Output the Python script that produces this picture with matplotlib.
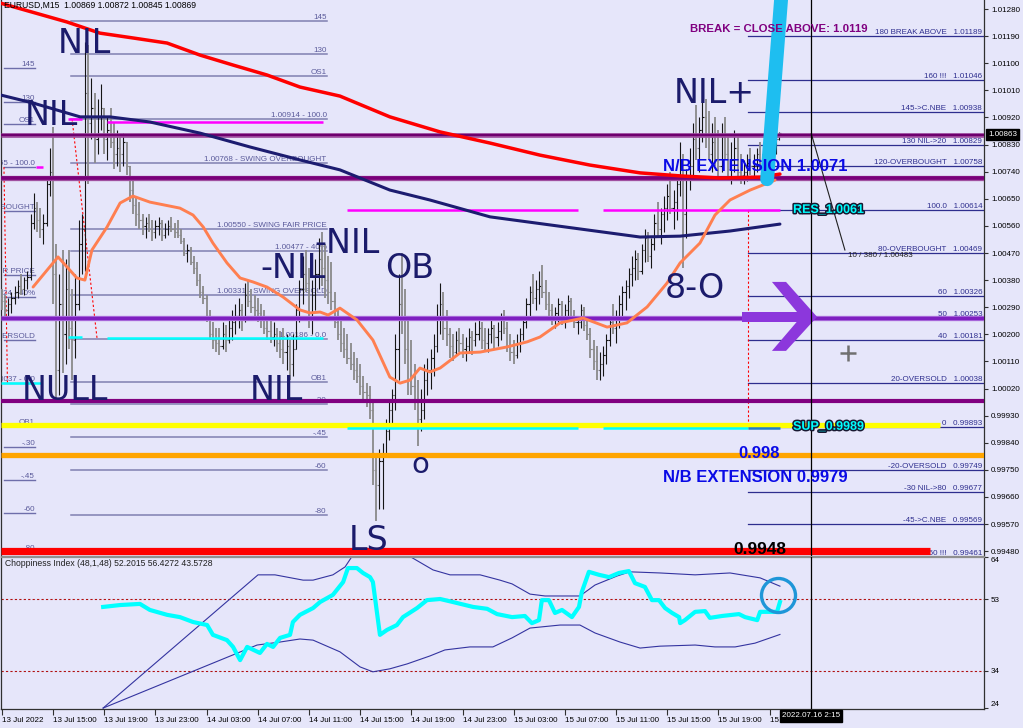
import numpy as np
import matplotlib
matplotlib.use("Agg")
import matplotlib.pyplot as plt
from matplotlib.collections import LineCollection
from matplotlib.patches import Polygon
from matplotlib.transforms import blended_transform_factory
import matplotlib.patheffects as pe

plt.rcParams['font.family'] = ['Liberation Sans', 'DejaVu Sans']

BG = '#E6E6FA'

# ---------------- data (prices in pips above parity, EURUSD M15) ----------------
first_open = 32
bar_high = [
    35, 33, 32, 34, 36, 38, 40, 39, 41, 60, 67, 64, 62, 60, 72, 82,
    89, 50, 40, 48, 45, 48, 35, 40, 58, 60, 117, 116, 105, 100, 98, 103,
    95, 92, 95, 90, 88, 86, 87, 84, 76, 72, 66, 64, 60, 59, 60, 58,
    58, 59, 58, 57, 58, 59, 57, 58, 55, 52, 50, 49, 46, 44, 40, 36,
    33, 28, 24, 22, 22, 24, 23, 25, 28, 30, 32, 30, 37, 38, 35, 33,
    32, 30, 28, 26, 25, 24, 22, 21, 22, 20, 18, 20, 30, 38, 46, 48,
    42, 38, 45, 52, 54, 50, 46, 44, 34, 28, 26, 22, 20, 17, 14, 12,
    10, 6, 4, 3, -2, -20, -18, -16, -8, -2, 2, 20, 40, 47, 35, 25,
    18, 10, 5, 2, 10, 12, 15, 20, 30, 37, 34, 28, 22, 20, 21, 22,
    20, 19, 22, 21, 24, 26, 24, 22, 22, 25, 23, 24, 27, 28, 24, 20,
    18, 20, 22, 26, 32, 36, 40, 38, 41, 43, 38, 34, 30, 29, 32, 31,
    30, 33, 32, 28, 26, 30, 29, 26, 22, 18, 16, 14, 16, 20, 26, 30,
    28, 33, 36, 38, 42, 46, 48, 47, 50, 55, 54, 52, 60, 64, 62, 66,
    70, 74, 68, 72, 84, 80, 75, 82, 90, 96, 92, 98, 98, 94, 90, 92,
    88, 90, 92, 86, 84, 88, 86, 80, 78, 80, 82, 80, 82, 84, 80, 82,
    85, 86, 88, 87.2]
bar_low = [
    28, 26, 25, 27, 30, 32, 33, 33, 35, 38, 55, 54, 52, 50, 56, 66,
    30, -2, 0, 7, 10, 15, 5, 12, 28, 40, 41, 70, 85, 77, 80, 88,
    80, 78, 82, 75, 76, 74, 76, 73, 64, 60, 56, 55, 53, 52, 54, 51,
    52, 53, 51, 52, 53, 54, 52, 52, 50, 46, 44, 43, 40, 36, 32, 30,
    24, 18, 15, 14, 13, 15, 14, 17, 18, 20, 22, 21, 24, 29, 27, 26,
    24, 22, 20, 18, 17, 16, 14, 12, 10, 8, 5, 6, 15, 24, 30, 34,
    22, 20, 28, 35, 36, 32, 30, 28, 22, 18, 14, 12, 10, 8, 5, 4,
    0, -2, -4, -8, -30, -42, -38, -38, -20, -15, -10, -5, 5, 20, 10, 0,
    0, -5, -17, -12, -8, 0, 2, 6, 14, 20, 18, 16, 12, 11, 13, 14,
    12, 11, 14, 13, 16, 18, 15, 14, 14, 17, 15, 16, 18, 20, 14, 11,
    10, 12, 14, 18, 22, 26, 30, 28, 30, 32, 28, 26, 23, 22, 24, 23,
    22, 25, 24, 22, 20, 22, 21, 18, 12, 8, 5, 5, 6, 10, 16, 20,
    17, 22, 26, 28, 32, 36, 38, 38, 40, 44, 44, 42, 48, 52, 50, 54,
    58, 60, 55, 58, 66, 42, 52, 68, 72, 78, 74, 84, 82, 78, 74, 76,
    72, 74, 78, 72, 70, 74, 72, 70, 70, 71, 73, 72, 74, 75, 71, 73,
    76, 78, 80, 84.5]
bar_close = [
    31, 28, 30, 32, 34, 36, 35, 38, 39, 57, 62, 58, 55, 57, 70, 74,
    40, 8, 30, 20, 35, 22, 18, 30, 50, 55, 100, 90, 95, 85, 92, 95,
    85, 88, 84, 80, 82, 80, 84, 76, 68, 63, 60, 58, 56, 57, 55, 54,
    56, 57, 53, 55, 56, 55, 54, 53, 51, 47, 48, 44, 42, 38, 34, 32,
    26, 20, 18, 17, 16, 20, 18, 22, 24, 26, 28, 25, 33, 31, 29, 28,
    27, 25, 22, 21, 19, 20, 17, 15, 14, 16, 10, 15, 28, 35, 40, 37,
    26, 33, 40, 45, 42, 38, 34, 31, 24, 20, 17, 15, 12, 10, 8, 6,
    3, 1, 0, -5, -25, -30, -22, -20, -12, -5, 0, 15, 30, 25, 15, 5,
    3, -2, -8, -5, 5, 8, 12, 16, 26, 30, 22, 20, 16, 14, 18, 17,
    15, 16, 19, 18, 20, 22, 18, 17, 20, 22, 19, 21, 25, 22, 16, 14,
    13, 17, 20, 24, 30, 34, 32, 35, 36, 34, 30, 28, 26, 27, 30, 25,
    28, 31, 26, 24, 24, 28, 23, 20, 15, 11, 8, 10, 13, 18, 24, 22,
    26, 30, 34, 36, 40, 42, 45, 41, 48, 52, 46, 50, 57, 55, 60, 62,
    66, 62, 64, 70, 78, 60, 72, 76, 85, 82, 88, 92, 86, 80, 84, 78,
    76, 86, 80, 75, 78, 82, 74, 73, 74, 77, 76, 78, 80, 78, 75, 80,
    82, 84, 85, 86.9]

# moving averages: (bar index, pips)
red_ma_bar = [-0.5, 20.4, 30.7, 41.0, 51.7, 62.0, 72.3, 82.9, 93.2, 105.7, 121.3, 137.0,
              152.6, 168.2, 183.8, 199.5, 212.0, 224.5, 237.0, 243.2]
red_ma_pips = [130.0, 123.7, 120.0, 118.4, 116.7, 112.7, 109.4, 106.1, 102.1, 99.1, 92.2, 87.2,
               83.5, 79.5, 76.2, 73.6, 72.6, 71.9, 72.2, 73.2]
navy_ma_bar = [-0.5, 9.8, 24.5, 33.8, 46.3, 62.0, 77.6, 93.2, 105.7, 121.3, 133.8, 152.6,
               178.5, 199.5, 212.0, 227.6, 243.2]
navy_ma_pips = [99.5, 96.8, 92.2, 92.2, 90.5, 86.8, 82.2, 77.9, 74.6, 67.9, 64.6, 59.0,
                55.3, 52.3, 52.6, 54.3, 56.6]
orange_ma_bar = [9.8, 17.6, 23.5, 26.0, 28.2, 32.9, 37.0, 41.0, 46.3, 55.7, 59.8, 63.0, 66.0,
                 70.4, 74.5, 78.5, 82.9, 87.9, 93.2, 96.3, 99.5, 102.0, 105.7, 111.0, 116.0,
                 121.3, 124.5, 127.6, 130.7, 133.8, 137.0, 143.2, 149.5, 157.9, 164.2, 168.2,
                 174.5, 181.7, 189.2, 195.4, 201.7, 207.9, 212.0, 218.2, 222.9, 227.6, 233.9, 241.7]
orange_ma_pips = [35.7, 45.7, 38.7, 38.0, 48.0, 55.6, 63.6, 65.9, 63.9, 61.9, 59.6, 55.6, 50.3,
                  43.7, 38.7, 37.4, 35.7, 32.4, 28.1, 27.1, 27.4, 26.4, 28.7, 24.8, 18.1,
                  5.8, 3.8, 4.8, 8.8, 7.5, 8.8, 13.8, 14.1, 15.8, 17.5, 19.1,
                  23.8, 25.4, 22.4, 23.8, 29.1, 37.0, 43.7, 50.3, 59.6, 64.6, 67.9, 71.2]

# Choppiness Index (48,1,48) and its bands
chop_bar = [31.7, 37.0, 43.2, 46.3, 51.7, 55.7, 59.8, 64.2, 66.0, 70.4, 72.3, 74.5, 76.7, 80.7,
            82.9, 84.8, 87.0, 90.1, 91.0, 93.2, 97.3, 99.5, 103.5, 106.7, 108.2, 111.0, 112.9,
            115.1, 116.0, 118.2, 120.4, 123.5, 125.4, 129.8, 132.9, 137.0, 141.0, 147.3, 151.7,
            154.8, 159.5, 163.5, 165.7, 167.9, 168.8, 171.0, 172.9, 175.1, 178.2, 180.4, 181.3,
            183.5, 186.7, 189.8, 192.9, 196.0, 197.9, 201.0, 203.2, 205.4, 207.3, 209.5, 211.7,
            212.0, 213.5, 216.7, 219.8, 221.3, 225.1, 230.4, 232.3, 236.1, 237.0, 240.7, 242.3, 243.2]
chop_val = [50.9, 51.4, 51.7, 50.1, 48.8, 48.2, 46.9, 46.1, 43.5, 42.1, 40.3, 36.8, 40.3, 38.7,
            41.1, 40.3, 42.7, 43.5, 46.9, 48.8, 50.6, 52.2, 54.1, 57.5, 61.2, 61.2, 59.9,
            58.8, 57.5, 43.5, 44.8, 46.1, 48.2, 50.6, 52.7, 53.0, 52.2, 50.9, 50.4,
            49.0, 48.2, 48.5, 46.6, 47.4, 52.7, 52.7, 49.3, 50.1, 48.2, 50.9, 54.9,
            60.2, 59.4, 58.8, 59.9, 60.4, 57.2, 56.2, 52.7, 52.7, 50.6, 49.3, 48.2,
            46.6, 47.4, 49.6, 49.8, 48.0, 48.5, 49.0, 48.2, 47.4, 49.6, 49.6, 49.6, 52.2]
upper_bar = [31.7, 80.1, 85.4, 94.2, 97.3, 103.5, 107.3, 109.8, 118.2, 126.7, 134.8, 140.1, 149.5,
             155.7, 159.5, 165.1, 169.8, 180.7, 185.4, 192.3, 196.3, 205.7, 216.7, 227.6, 237.0, 243.2]
upper_val = [24.1, 59.4, 59.4, 58.0, 58.0, 59.4, 61.5, 64.7, 68.6, 64.7, 60.7, 59.4, 59.4,
             58.0, 57.0, 54.3, 53.8, 53.8, 56.7, 59.1, 60.2, 59.9, 59.4, 59.9, 58.6, 56.4]
lower_bar = [31.7, 79.8, 87.0, 93.2, 97.3, 105.7, 112.0, 116.0, 121.3, 126.7, 133.8, 138.5, 146.3,
             153.5, 159.5, 165.1, 174.5, 180.7, 185.4, 193.2, 199.5, 205.7, 216.7, 222.9, 229.2,
             235.4, 243.2]
lower_val = [24.1, 40.8, 41.6, 42.4, 42.1, 39.0, 35.0, 33.7, 34.5, 35.8, 37.9, 39.5, 40.3,
             40.3, 42.7, 45.3, 46.1, 46.1, 44.0, 41.6, 40.0, 40.5, 40.8, 40.3, 40.3,
             41.3, 43.6]

# Fibonacci level sets
right_levels = [1.01189, 1.01046, 1.00938, 1.00829, 1.00758, 1.00614, 1.00469, 1.00326,
                1.00253, 1.00181, 1.00038, 0.99893, 0.99749, 0.99677, 0.99569, 0.99461]
right_names = ["180 BREAK ABOVE", "160 !!!", "145->C.NBE", "130 NIL->20", "120-OVERBOUGHT",
               "100.0", "80-OVERBOUGHT", "60", "50", "40", "20-OVERSOLD", "0",
               "-20-OVERSOLD", "-30 NIL->80", "-45->C.NBE", "-60 !!!"]
mid_levels = [1.01240, 1.01131, 1.01058, 1.00914, 1.00768, 1.00550, 1.00477, 1.00331,
              1.00186, 1.00042, 0.99969, 0.99859, 0.99750, 0.99600]
mid_names = ["145", "130", "OS1", "1.00914 - 100.0", "1.00768 - SWING OVERBOUGHT",
             "1.00550 - SWING FAIR PRICE", "1.00477 - 40%", "1.00331 - SWING OVERSOLD",
             "1.00186 - 0.0", "OB1", "-.30", "-.45", "-60", "-80"]
left_levels = [1.01084, 1.00971, 1.00898, 1.00755, 1.00611, 1.00396, 1.00324, 1.00181,
               1.00037, 0.99896, 0.99826, 0.99716, 0.99607, 0.99477]
left_names = ["145", "130", "OS1", "1.00755 - 100.0", "1.00611 - SWING OVERBOUGHT",
              "1.00396 - SWING FAIR PRICE", "1.00324 - 40%", "1.00181 - SWING OVERSOLD",
              "1.00037 - 0.0", "OB1", "-.30", "-.45", "-60", "-80"]

price_ticks = [0.99480 + 0.0009 * k for k in range(21)]
chop_ticks = [24, 34, 53, 64]
chop_levels = [53, 34]
time_tick_bars = list(range(0, 241, 16))
time_labels = ["13 Jul 2022", "13 Jul 15:00", "13 Jul 19:00", "13 Jul 23:00", "14 Jul 03:00",
               "14 Jul 07:00", "14 Jul 11:00", "14 Jul 15:00", "14 Jul 19:00", "14 Jul 23:00",
               "15 Jul 03:00", "15 Jul 07:00", "15 Jul 11:00", "15 Jul 15:00", "15 Jul 19:00",
               "15 Jul 23:00"]
cursor_bar = 253
last_price = 1.00863


def P(p):
    return 1.0 + np.asarray(p, dtype=float) / 1e4


# ---------------- figure layout ----------------
W, H = 1023, 728
fig = plt.figure(figsize=(W / 100, H / 100), dpi=100, facecolor=BG)


def rect(x0, y0, x1, y1):
    return [x0 / W, 1 - y1 / H, (x1 - x0) / W, (y1 - y0) / H]


ax = fig.add_axes(rect(1, 0, 984, 556))
ax2 = fig.add_axes(rect(1, 557, 984, 709), sharex=ax)
for a in (ax, ax2):
    a.set_facecolor(BG)
    for s in a.spines.values():
        s.set_color('#303030')
        s.set_linewidth(0.9)
ax.spines['top'].set_visible(False)
ax.spines['bottom'].set_color('#909090')
ax2.spines['top'].set_color('#909090')

XL = (-0.22, 306.97)
ax.set_xlim(*XL)
ax.set_ylim(0.99464, 1.01310)
ax2.set_ylim(23.85, 64.13)

# ---------------- fibonacci levels ----------------
FS = 5.8
for lv, nm in zip(right_levels, right_names):
    ax.plot([233.2, 306.7], [lv, lv], color='#2E2E8E', lw=0.9, zorder=1)
    ax.text(306.4, lv, f"{nm}   {lv:.5f}", ha='right', va='bottom', fontsize=FS,
            color='#2E2E8E', zorder=1.5, clip_on=True)
for lv, nm in zip(mid_levels, mid_names):
    ax.plot([21.7, 101.7], [lv, lv], color='#8080B0', lw=1.1, zorder=1)
    ax.text(101.5, lv, nm, ha='right', va='bottom', fontsize=FS, color='#5A5A9A',
            zorder=1.5, clip_on=True)
for lv, nm in zip(left_levels, left_names):
    ax.plot([0.7, 10.4], [lv, lv], color='#6E6EAA', lw=1.0, zorder=1)
    ax.text(10.4, lv, nm, ha='right', va='bottom', fontsize=FS, color='#5A5A9A',
            zorder=1.5, clip_on=True)

# fib anchor connectors
dot = dict(color='#FF0000', lw=0.8, ls=(0, (2, 2)), zorder=1.6)
ax.plot([0.7, 1.8], [1.00755, 1.00037], **dot)
ax.plot([22.0, 29.8], [1.00914, 1.00186], **dot)
ax.plot([233.2, 233.2], [1.00614, 0.99893], **dot)

# ---------------- price bars ----------------
hi, lo, cl = P(bar_high), P(bar_low), P(bar_close)
op = np.concatenate([[P(first_open)], cl[:-1]])
xb = np.arange(len(cl))
segs, cols, lws = [], [], []
for i in range(len(cl)):
    upbar = cl[i] >= op[i]
    c = '#151515' if upbar else '#8A8A8A'
    w = 0.8 if upbar else 1.3
    segs += [[(xb[i], lo[i]), (xb[i], hi[i])],
             [(xb[i] - 0.4, op[i]), (xb[i], op[i])],
             [(xb[i], cl[i]), (xb[i] + 0.4, cl[i])]]
    cols += [c] * 3
    lws += [w, 0.8, 0.8]
ax.add_collection(LineCollection(segs, colors=cols, linewidths=lws, zorder=3))

# ---------------- horizontal key lines ----------------
def hline(y, color, lw, x0=XL[0], x1=XL[1], z=4):
    ax.plot([x0, x1], [y, y], color=color, lw=lw, solid_capstyle='butt', zorder=z)

hline(1.00863, '#A050A0', 3.4)
hline(1.00863, '#6E006E', 1.6)
hline(1.00719, '#A050A0', 3.8)
hline(1.00719, '#7A007A', 2.6)
hline(1.00253, '#A868DA', 3.8)
hline(1.00253, '#7E1FC0', 2.2)
hline(0.99980, '#800080', 3.0)
hline(0.99898, '#FFFF00', 3.8, x1=293.2)
hline(0.99800, '#FFA500', 3.8, x1=XL[1])
hline(0.99479, '#FF0000', 5.2, x1=290.1)

# support / resistance segments
hline(1.00905, '#FF00FF', 1.8, 32.9, 100.4)
hline(1.00916, '#FF00FF', 1.8, 20.7, 25.1)
hline(1.00755, '#FF00FF', 1.8, 10.7, 12.9)
hline(1.00188, '#00FFFF', 1.8, 32.9, 100.4)
hline(1.00190, '#00FFFF', 1.8, 20.7, 25.1)
hline(1.00038, '#00FFFF', 1.8, -0.22, 12.6)
hline(1.00614, '#FF00FF', 1.8, 107.9, 180.1)
hline(1.00614, '#FF00FF', 1.8, 187.9, 243.2)
hline(0.99890, '#00FFFF', 1.8, 107.9, 180.1)
hline(0.99890, '#00FFFF', 1.8, 187.9, 233.2)
hline(0.99890, '#1F7FC8', 1.8, 233.2, 243.2)

# ---------------- moving averages ----------------
ax.plot(red_ma_bar, P(red_ma_pips), color='#FF0000', lw=2.5, zorder=5, solid_capstyle='round')
ax.plot(navy_ma_bar, P(navy_ma_pips), color='#1C1C70', lw=2.2, zorder=5, solid_capstyle='round')
ax.plot(orange_ma_bar, P(orange_ma_pips), color='#FF7F50', lw=2.1, zorder=5, solid_capstyle='round')

# breakout stroke
ax.plot([239.2, 244.2], [1.00715, 1.01400], color='#1EBEF0', lw=10, solid_capstyle='round', zorder=6)

# arrow
ax.add_patch(Polygon([(240.7, 1.00374), (245.1, 1.00374), (254.8, 1.00258), (245.1, 1.00145),
                      (240.7, 1.00145), (249.8, 1.00258)], closed=True, color='#8C37DC', zorder=6, lw=0))
ax.add_patch(Polygon([(231.3, 1.00274), (253.0, 1.00274), (253.0, 1.00241), (231.3, 1.00241)],
                     closed=True, color='#8C37DC', zorder=6, lw=0))

# trend line with label, cursor line, crosshair
ax.plot([253.0, 263.5], [1.00866, 1.00480], color='#202020', lw=0.8, zorder=6)
ax.text(264.5, 1.00462, "10 / 380 / 1.00483", fontsize=FS, color='#202020', va='center', zorder=7)
ax.axvline(cursor_bar, color='black', lw=0.9, zorder=7)
ax2.axvline(cursor_bar, color='black', lw=0.9, zorder=7)
ax.plot([264.5], [1.00138], marker='+', ms=12, mew=1.8, color='#707070', zorder=7)

# ---------------- annotations ----------------
navy = '#1B1B6B'
big = dict(fontsize=24, color=navy, family='DejaVu Sans', ha='left', va='baseline', zorder=8)
for txt, bx, by in [("NIL", 17.6, 1.01134), ("NIL", 7.2, 1.00895), ("NULL", 6.3, 0.99982),
                    ("NIL", 77.5, 0.99982), ("-NIL", 80.7, 1.00387), ("-NIL", 97.8, 1.00470),
                    ("OB", 119.7, 1.00387), ("LS", 108.5, 0.99484), ("NIL+", 210.0, 1.00968),
                    ("8-O", 207.2, 1.00321)]:
    ax.text(bx, by, txt, **big)
ax.text(128.0, 0.99740, "o", **{**big, 'fontsize': 21})

bold = dict(fontweight='bold', ha='left', va='baseline', zorder=9)
ax.text(206.7, 1.00742, "N/B EXTENSION 1.0071", fontsize=12, color='#0A0AE6', **bold)
ax.text(206.7, 0.99710, "N/B EXTENSION 0.9979", fontsize=12, color='#0A0AE6', **bold)
ax.text(230.1, 0.99790, "0.998", fontsize=12, color='#0A0AE6', **bold)
ax.text(228.5, 0.99470, "0.9948", fontsize=12.5, color='black', **bold)
ax.text(215.1, 1.01204, "BREAK = CLOSE ABOVE: 1.0119", fontsize=8.2, color='#800080', **bold)
outline = [pe.withStroke(linewidth=2.2, foreground='#181830')]
ax.text(247.3, 1.00613, "RES_1.0061", fontsize=9, color='#00FFFF', fontweight='bold',
        va='center', ha='left', zorder=9, path_effects=outline)
ax.text(247.3, 0.99893, "SUP_0.9989", fontsize=9, color='#00FFFF', fontweight='bold',
        va='center', ha='left', zorder=9, path_effects=outline)

fig.text(4 / W, 1 - 5 / H, "EURUSD,M15  1.00869 1.00872 1.00845 1.00869", fontsize=6.2,
         color='black', va='center', ha='left')

# ---------------- price axis ----------------
ax.yaxis.tick_right()
ax.set_yticks(price_ticks)
ax.set_yticklabels([f"{v:.5f}" for v in price_ticks], fontsize=FS)
ax.tick_params(axis='y', length=3, pad=2, color='#303030')
ax.tick_params(axis='x', bottom=False, labelbottom=False)
ytr = blended_transform_factory(ax.transAxes, ax.transData)
ax.text(1.004, last_price, "1.00863", transform=ytr, fontsize=FS, color='white', va='center',
        ha='left', clip_on=False, zorder=10,
        bbox=dict(boxstyle='square,pad=0.25', fc='black', ec='black'))

# ---------------- choppiness panel ----------------
for lv in chop_levels:
    ax2.axhline(lv, color='#B01010', lw=0.8, ls=(0, (2, 2)), zorder=1)
ax2.plot(upper_bar, upper_val, color='#3434A0', lw=0.8, zorder=2)
ax2.plot(lower_bar, lower_val, color='#3434A0', lw=0.8, zorder=2)
ax2.plot(chop_bar, chop_val, color='#00FFFF', lw=3.0, zorder=3, solid_joinstyle='round')
ax2.plot([242.7], [54.1], marker='o', ms=24.5, mfc='none', mec='#1E96D8', mew=2.4, zorder=4)
ax2.text(4 / 983, 0.955, "Choppiness Index (48,1,48) 52.2015 56.4272 43.5728",
         transform=ax2.transAxes, fontsize=6.2, color='#202020', va='center', ha='left')

ax2.yaxis.tick_right()
ax2.set_yticks(chop_ticks)
ax2.set_yticklabels([str(v) for v in chop_ticks], fontsize=FS)
ax2.tick_params(axis='y', length=3, pad=2, color='#303030')
for t, v in zip(ax2.get_yticklabels(), chop_ticks):
    if v == 64:
        t.set_va('top')
    elif v == 24:
        t.set_va('bottom')

ax2.set_xticks(time_tick_bars)
ax2.set_xticklabels(time_labels, fontsize=FS, ha='left')
ax2.tick_params(axis='x', length=4, pad=1.5, color='#303030')
xtr = blended_transform_factory(ax2.transData, ax2.transAxes)
ax2.text(cursor_bar, -0.046, "2022.07.16 2:15", transform=xtr, fontsize=FS, color='white',
         ha='center', va='center', clip_on=False, zorder=10,
         bbox=dict(boxstyle='square,pad=0.25', fc='black', ec='black'))

fig.savefig("out.png", dpi=100, facecolor=BG)
